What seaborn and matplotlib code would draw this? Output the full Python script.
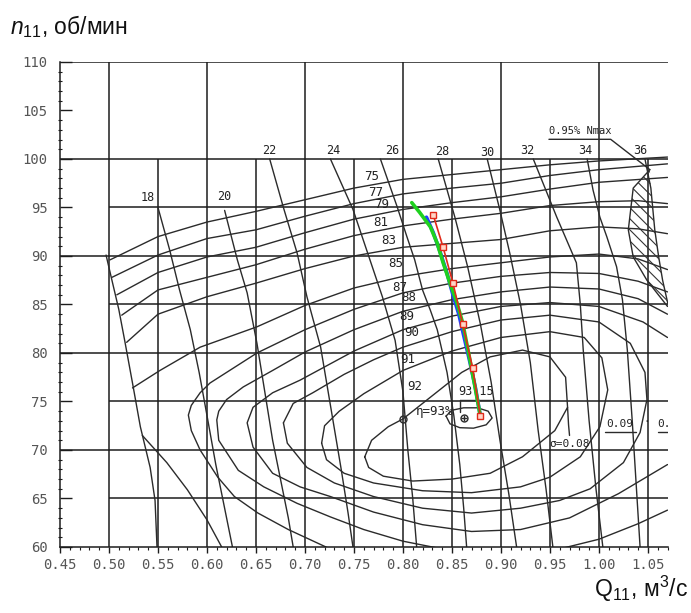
import matplotlib
matplotlib.use("Agg")
import matplotlib.pyplot as plt
from matplotlib.ticker import MultipleLocator
import numpy as np
import pandas as pd
import seaborn as sns

# ---------------------------------------------------------------------------
# Universal characteristic of the runner: Q11 (m3/s) vs n11 (rpm)
# ---------------------------------------------------------------------------

# Efficiency isolines that start on the left limiting line
eta_75 = [(0.501, 89.6), (0.55, 92.0), (0.60, 93.5), (0.65, 94.6), (0.70, 95.8), (0.75, 97.0),
          (0.80, 97.9), (0.85, 98.4), (0.90, 98.9), (0.95, 99.4), (1.00, 99.8), (1.07, 100.2)]
eta_77 = [(0.503, 87.8), (0.55, 90.1), (0.60, 91.8), (0.65, 92.7), (0.70, 94.1), (0.75, 95.4),
          (0.80, 96.4), (0.85, 97.0), (0.90, 97.5), (0.95, 98.3), (1.00, 98.9), (1.07, 99.5)]
eta_79 = [(0.508, 86.0), (0.55, 88.3), (0.60, 89.9), (0.65, 90.9), (0.70, 92.4), (0.75, 93.8),
          (0.80, 94.8), (0.85, 95.5), (0.90, 96.1), (0.95, 96.9), (1.00, 97.6), (1.07, 98.1)]
eta_81 = [(0.513, 83.9), (0.55, 86.5), (0.60, 87.8), (0.65, 89.1), (0.70, 90.7), (0.75, 92.1),
          (0.80, 93.1), (0.85, 93.8), (0.90, 94.4), (0.95, 95.2), (1.00, 95.6), (1.04, 95.7),
          (1.07, 95.4)]
eta_83 = [(0.518, 81.1), (0.55, 84.0), (0.60, 85.8), (0.65, 87.2), (0.70, 88.7), (0.75, 90.0),
          (0.80, 90.9), (0.85, 91.3), (0.90, 91.7), (0.95, 92.6), (1.00, 93.0), (1.04, 92.8),
          (1.07, 92.3)]
eta_85 = [(0.524, 76.4), (0.552, 78.2), (0.593, 80.6), (0.651, 82.7), (0.70, 84.9), (0.75, 86.7),
          (0.80, 87.9), (0.85, 88.7), (0.90, 89.3), (0.95, 89.9), (1.00, 90.2), (1.04, 89.7),
          (1.07, 88.6)]

# Isolines with a nose on the left (traced right edge -> nose -> lower branch)
eta_87 = [(1.07, 86.3), (1.04, 87.4), (1.00, 88.2), (0.95, 88.3), (0.90, 87.9), (0.85, 87.2),
          (0.80, 86.2), (0.75, 84.5), (0.70, 82.4), (0.651, 80.0), (0.603, 76.9), (0.593, 75.9),
          (0.584, 74.6), (0.581, 73.6), (0.584, 72.0), (0.593, 70.0), (0.611, 67.2),
          (0.628, 65.2), (0.652, 63.5), (0.683, 61.8), (0.73, 59.6), (0.78, 58.5)]
eta_88 = [(1.07, 84.0), (1.04, 85.6), (1.00, 86.6), (0.95, 86.8), (0.90, 86.3), (0.85, 85.5),
          (0.80, 84.3), (0.75, 82.4), (0.70, 80.1), (0.667, 78.2), (0.637, 76.5), (0.620, 75.2),
          (0.612, 74.0), (0.610, 73.1), (0.612, 71.0), (0.632, 67.9), (0.658, 66.2),
          (0.692, 64.5), (0.726, 63.1), (0.76, 61.8), (0.80, 60.6), (0.84, 59.8), (0.90, 59.3),
          (0.96, 59.8), (1.00, 60.8), (1.04, 62.4), (1.07, 63.8)]
eta_89 = [(1.07, 81.6), (1.045, 83.2), (1.00, 84.8), (0.95, 85.2), (0.90, 84.8), (0.85, 83.8),
          (0.80, 82.4), (0.75, 80.2), (0.695, 77.2), (0.667, 75.9), (0.647, 74.4), (0.641, 72.8),
          (0.647, 70.3), (0.667, 67.6), (0.695, 66.2), (0.726, 65.2), (0.77, 63.6),
          (0.82, 62.3), (0.87, 61.6), (0.92, 61.8), (0.97, 63.0), (1.02, 65.5), (1.07, 68.5)]
eta_90 = [(0.678, 72.8), (0.688, 74.8), (0.708, 75.9), (0.74, 77.8), (0.77, 79.3), (0.80, 80.6),
          (0.85, 82.2), (0.90, 83.4), (0.95, 83.9), (1.00, 83.2), (1.032, 81.0), (1.047, 78.0),
          (1.049, 75.2), (1.042, 71.8), (1.025, 68.7), (0.991, 66.0), (0.96, 64.8),
          (0.92, 64.0), (0.87, 63.5), (0.82, 64.0), (0.77, 65.2), (0.73, 66.6), (0.702, 68.2),
          (0.682, 70.7), (0.678, 72.8)]
eta_91 = [(0.717, 70.7), (0.72, 72.5), (0.735, 74.0), (0.76, 75.8), (0.80, 78.2), (0.85, 80.2),
          (0.90, 81.6), (0.95, 82.2), (0.985, 81.6), (1.003, 79.5), (1.009, 76.2),
          (1.001, 72.4), (0.981, 69.3), (0.95, 67.2), (0.92, 66.2), (0.87, 65.6), (0.82, 65.8),
          (0.77, 66.6), (0.74, 67.6), (0.722, 69.0), (0.717, 70.7)]
eta_92 = [(0.761, 69.3), (0.768, 71.0), (0.785, 72.4), (0.80, 73.2), (0.82, 74.8), (0.84, 76.4),
          (0.86, 78.0), (0.889, 79.6), (0.922, 80.3), (0.950, 79.6), (0.966, 77.5),
          (0.968, 74.4), (0.955, 72.0), (0.922, 69.3), (0.889, 67.6), (0.85, 67.0),
          (0.81, 66.8), (0.78, 67.3), (0.765, 68.2), (0.761, 69.3)]
eta_93_15 = [(0.844, 73.5), (0.850, 74.1), (0.862, 74.35), (0.876, 74.35), (0.887, 74.0),
             (0.891, 73.3), (0.885, 72.6), (0.872, 72.25), (0.858, 72.3), (0.848, 72.7),
             (0.844, 73.5)]
eta_lower = [(0.534, 71.5), (0.559, 68.7), (0.580, 65.9), (0.600, 62.8), (0.615, 60.0)]
sigma_008 = [(0.968, 74.4), (0.969, 72.6), (0.970, 71.5)]

# Left limiting line of the field
limit_left = [(0.497, 90.1), (0.503, 87.5), (0.510, 84.5), (0.516, 81.3), (0.524, 76.9),
              (0.532, 72.4), (0.542, 68.2), (0.547, 64.8), (0.549, 60.0)]

# Guide-vane opening lines a0 (mm)
a0_18 = [(0.550, 95.0), (0.562, 90.6), (0.572, 86.5), (0.583, 82.4), (0.592, 78.0),
         (0.601, 73.0), (0.609, 68.5), (0.618, 64.0), (0.626, 60.0)]
a0_20 = [(0.618, 94.7), (0.631, 89.6), (0.641, 86.2), (0.651, 81.0), (0.659, 76.0),
         (0.667, 71.0), (0.676, 66.5), (0.683, 63.0), (0.688, 60.0)]
a0_22 = [(0.664, 100.0), (0.678, 95.0), (0.692, 90.3), (0.702, 85.8), (0.716, 80.6),
         (0.727, 74.0), (0.737, 68.0), (0.744, 63.5), (0.749, 60.0)]
a0_24 = [(0.726, 100.0), (0.749, 94.8), (0.763, 90.6), (0.779, 85.8), (0.792, 81.3),
         (0.800, 76.0), (0.805, 70.0), (0.810, 65.0), (0.814, 60.0)]
a0_26 = [(0.777, 100.0), (0.794, 95.1), (0.804, 92.0), (0.812, 89.6), (0.820, 86.5),
         (0.828, 84.4), (0.835, 82.4), (0.845, 78.0), (0.852, 73.5), (0.858, 68.5),
         (0.862, 64.0), (0.865, 60.0)]
a0_28 = [(0.836, 100.0), (0.853, 94.0), (0.866, 88.9), (0.879, 83.0), (0.890, 77.0),
         (0.899, 71.0), (0.908, 65.5), (0.916, 60.0)]
a0_30 = [(0.886, 100.0), (0.899, 94.7), (0.909, 90.3), (0.920, 85.0), (0.930, 79.0),
         (0.938, 72.0), (0.946, 66.0), (0.953, 60.0)]
a0_32 = [(0.933, 100.0), (0.957, 94.0), (0.977, 89.3), (0.981, 85.0), (0.984, 80.3),
         (0.990, 73.0), (0.997, 66.0), (1.004, 60.0)]
a0_34 = [(0.988, 100.0), (0.994, 96.8), (1.001, 94.0), (1.008, 92.0), (1.018, 88.9),
         (1.024, 85.5), (1.029, 80.3), (1.034, 73.0), (1.038, 66.5), (1.042, 60.0)]
a0_36 = [(1.047, 100.0), (1.053, 97.0), (1.057, 92.7), (1.061, 89.9), (1.065, 87.5),
         (1.071, 84.8)]

# Power-limit zone (0.95% Nmax), left border; right border is the a0 = 36 line
nmax_n = [98.9, 97.0, 92.7, 89.9, 87.5, 84.8]
nmax_q_left = [1.052, 1.035, 1.030, 1.035, 1.049, 1.070]
nmax_q_right = [1.052, 1.053, 1.057, 1.061, 1.065, 1.071]

# Operating lines
green_q = [0.809, 0.817, 0.828, 0.835, 0.841, 0.848, 0.855, 0.861, 0.867, 0.873, 0.879]
green_n = [95.5, 94.5, 93.0, 91.3, 89.3, 87.2, 85.2, 83.1, 80.0, 76.8, 73.5]
blue_q = [0.824, 0.831, 0.838, 0.845, 0.851, 0.857, 0.862, 0.868, 0.874, 0.879]
blue_n = [94.0, 92.4, 90.4, 88.2, 86.0, 84.0, 81.8, 79.2, 76.4, 73.5]
red_q = [0.831, 0.841, 0.851, 0.861, 0.871, 0.879]
red_n = [94.2, 90.9, 87.2, 83.0, 78.5, 73.5]

# Labels
eta_labels = ['75', '77', '79', '81', '83', '85', '87', '88', '89', '90', '91', '92']
eta_label_q = [0.768, 0.772, 0.778, 0.777, 0.785, 0.793, 0.797, 0.806, 0.804, 0.809, 0.805, 0.812]
eta_label_n = [98.2, 96.5, 95.3, 93.5, 91.6, 89.2, 86.8, 85.7, 83.8, 82.1, 79.3, 76.5]
a0_labels = ['18', '20', '22', '24', '26', '28', '30', '32', '34', '36']
a0_label_q = [0.540, 0.618, 0.664, 0.729, 0.789, 0.840, 0.886, 0.927, 0.986, 1.042]
a0_label_n = [96.0, 96.1, 100.9, 100.9, 100.9, 100.8, 100.7, 100.9, 100.9, 100.9]

x_ticks = [0.45, 0.50, 0.55, 0.60, 0.65, 0.70, 0.75, 0.80, 0.85, 0.90, 0.95, 1.00, 1.05]
y_ticks = [60, 65, 70, 75, 80, 85, 90, 95, 100, 105, 110]

# Drawing grid of the chart sheet
grid_q_long = [0.50, 0.60, 0.70, 0.80, 0.90, 1.00]
grid_q_short = [0.55, 0.65, 0.75, 0.85, 0.95, 1.05]
grid_n_long = [70, 80, 90, 100, 110]
grid_n_short = [65, 75, 85, 95]


def long_frame(curves):
    rows = []
    for name, pts in curves.items():
        for i, (q, n) in enumerate(pts):
            rows.append((name, i, q, n))
    return pd.DataFrame(rows, columns=["curve", "order", "Q", "n"])


eta_df = long_frame({
    "75": eta_75, "77": eta_77, "79": eta_79, "81": eta_81, "83": eta_83, "85": eta_85,
    "87": eta_87, "88": eta_88, "89": eta_89, "90": eta_90, "91": eta_91, "92": eta_92,
    "93.15": eta_93_15, "low": eta_lower, "sigma": sigma_008, "limit": limit_left,
})
a0_df = long_frame({
    "18": a0_18, "20": a0_20, "22": a0_22, "24": a0_24, "26": a0_26,
    "28": a0_28, "30": a0_30, "32": a0_32, "34": a0_34, "36": a0_36,
})

sns.set_theme(style="white")
plt.rcParams["font.family"] = ["Liberation Sans", "DejaVu Sans"]
plt.rcParams["mathtext.fontset"] = "custom"
plt.rcParams["mathtext.rm"] = "Liberation Sans"
plt.rcParams["mathtext.it"] = "Liberation Sans:italic"
plt.rcParams["hatch.linewidth"] = 0.8

fig = plt.figure(figsize=(6.91, 6.13), dpi=100)
ax = fig.add_axes([60 / 691, 66 / 613, 608 / 691, 485 / 613])
ax.set_xlim(0.45, 1.0705)
ax.set_ylim(60, 110)

ink = "#1c1c1c"
# sheet grid
ax.vlines(grid_q_long, 60, 110, color=ink, lw=1.1, zorder=1)
ax.vlines(grid_q_short, 60, 100, color=ink, lw=1.1, zorder=1)
ax.hlines(grid_n_long, 0.45, 1.0705, color=ink, lw=1.1, zorder=1)
ax.hlines(grid_n_short, 0.50, 1.0705, color=ink, lw=1.1, zorder=1)

# isolines and opening lines
sns.lineplot(data=eta_df, x="Q", y="n", units="curve", estimator=None, sort=False,
             color="#2b2b2b", lw=1.0, ax=ax, legend=False, zorder=2)
sns.lineplot(data=a0_df, x="Q", y="n", units="curve", estimator=None, sort=False,
             color="#2b2b2b", lw=1.0, ax=ax, legend=False, zorder=2)

# power-limit zone
ax.fill_betweenx(nmax_n, nmax_q_left, nmax_q_right, facecolor="none", edgecolor="#333333",
                 hatch="\\\\\\", lw=0.0, zorder=2)
ax.plot(nmax_q_left, nmax_n, color="#2b2b2b", lw=1.0, zorder=2)

# operating lines
sns.lineplot(x=blue_q, y=blue_n, sort=False, estimator=None, color="#2040ff", lw=2.6,
             ax=ax, zorder=4)
sns.lineplot(x=green_q, y=green_n, sort=False, estimator=None, color="#1fd11f", lw=2.6,
             ax=ax, zorder=5)
sns.lineplot(x=red_q, y=red_n, sort=False, estimator=None, color="#e02a1a", lw=1.2,
             ax=ax, zorder=6)
ax.plot(red_q, red_n, ls="none", marker="s", ms=5, mfc="#ffd6c8", mec="#e02a1a", mew=1.0,
        zorder=7)

# text on the field
mono = "DejaVu Sans Mono"
for s, q, n in zip(eta_labels, eta_label_q, eta_label_n):
    ax.text(q, n, s, ha="center", va="center", fontsize=9, family=mono, color="#222222",
            zorder=8)
for s, q, n in zip(a0_labels, a0_label_q, a0_label_n):
    ax.text(q, n, s, ha="center", va="center", fontsize=8.5, family=mono, color="#222222",
            zorder=8)

ax.text(0.981, 102.9, "0.95% Nmax", ha="center", va="center", fontsize=7.5, family=mono,
        color="#222222")
ax.plot([0.949, 1.012, 1.052], [102.03, 102.03, 98.9], color="#2b2b2b", lw=1.0)

ax.text(0.832, 74.0, "η=93%", ha="center", va="center", fontsize=9, family=mono,
        color="#222222", zorder=8)
ax.plot([0.800], [73.2], ls="none", marker="o", ms=5, mfc="none", mec="#2b2b2b", mew=1.0)
ax.plot([0.862], [73.3], ls="none", marker="o", ms=5, mfc="none", mec="#2b2b2b", mew=1.0)
ax.plot([0.862], [73.3], ls="none", marker="+", ms=5, mec="#2b2b2b", mew=1.0)
ax.text(0.875, 76.0, "93.15", ha="center", va="center", fontsize=8.5, family=mono,
        color="#222222", zorder=3)
ax.plot([0.858, 0.891], [75.15, 75.15], color="#2b2b2b", lw=1.0)
ax.plot([0.858, 0.858], [75.15, 73.9], color="#2b2b2b", lw=1.0)

ax.text(0.970, 70.6, "σ=0.08", ha="center", va="center", fontsize=8, family=mono,
        color="#222222")
ax.text(1.021, 72.7, "0.09", ha="center", va="center", fontsize=8, family=mono,
        color="#222222")
ax.plot([1.006, 1.038], [71.85, 71.85], color="#2b2b2b", lw=1.0)
ax.text(1.049, 72.9, "·", ha="center", va="center", fontsize=8, family=mono, color="#222222")
ax.text(1.060, 72.7, "0.", ha="left", va="center", fontsize=8, family=mono,
        color="#222222", clip_on=False)
ax.plot([1.060, 1.0705], [71.85, 71.85], color="#2b2b2b", lw=1.0)

# axes, ticks
for side in ("top", "right"):
    ax.spines[side].set_visible(False)
for side in ("left", "bottom"):
    ax.spines[side].set_color(ink)
    ax.spines[side].set_linewidth(1.1)

ax.set_xticks(x_ticks)
ax.set_xticklabels([f"{v:.2f}" for v in x_ticks])
ax.set_yticks(y_ticks)
ax.set_yticklabels([f"{v:d}" for v in y_ticks])
ax.xaxis.set_minor_locator(MultipleLocator(0.01))
ax.yaxis.set_minor_locator(MultipleLocator(1))
ax.tick_params(axis="x", which="major", direction="out", length=4, width=1.0, color=ink,
               pad=4, labelsize=10, labelcolor="#555555", bottom=True)
ax.tick_params(axis="x", which="minor", direction="out", length=2.5, width=0.8, color=ink,
               bottom=True)
ax.tick_params(axis="y", which="major", direction="in", length=8.5, width=1.0, color=ink,
               pad=9, labelsize=10, labelcolor="#555555", left=True)
ax.tick_params(axis="y", which="minor", direction="inout", length=3.5, width=0.8, color=ink,
               left=True)
for lbl in ax.get_xticklabels() + ax.get_yticklabels():
    lbl.set_family(mono)
ax.set_xlabel("")
ax.set_ylabel("")
ax.grid(False)

fig.text(10 / 691, 1 - 34 / 613, r"$n_{11}$, об/мин", fontsize=16.5, ha="left",
         va="baseline", color="#111111")
fig.text(688 / 691, 1 - 597 / 613, r"$\mathrm{Q}_{11}$, м$^{3}$/с", fontsize=16.5,
         ha="right", va="baseline", color="#111111")

fig.savefig("out.png", dpi=100)
